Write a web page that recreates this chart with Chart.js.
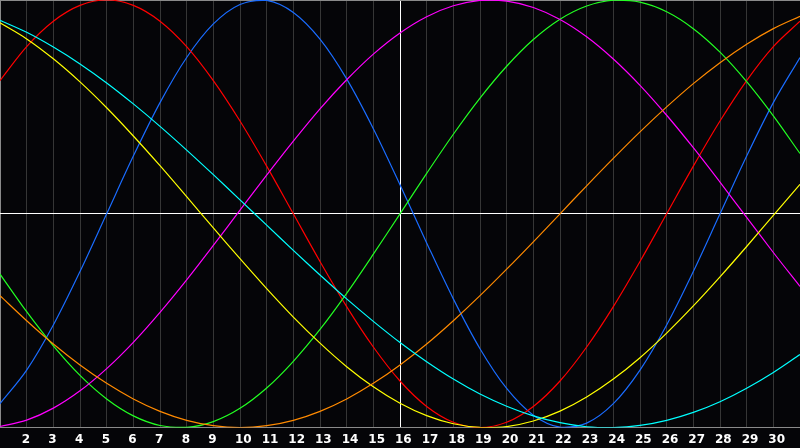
<!DOCTYPE html>
<html lang="en">
<head>
  <meta charset="UTF-8" />
  <title>Biorhythm</title>
  <script src="https://cdn.jsdelivr.net/npm/chart.js"></script>
  <style>
    body { margin: 0; background: #050508; }
    canvas { display: block; }
  </style>
</head>
<body>
  <canvas id="bioChart" width="800" height="448"></canvas>

  <script>
    // days of the month shown on the x axis
    const days = [1, 2, 3, 4, 5, 6, 7, 8, 9, 10, 11, 12, 13, 14, 15, 16,
                  17, 18, 19, 20, 21, 22, 23, 24, 25, 26, 27, 28, 29, 30, 31];

    // cycle values, -1 .. 1, one per day
    const physical = [-0.888, -0.731, -0.520, -0.270, 0.000, 0.270, 0.520, 0.731, 0.888, 0.979,
                      0.998, 0.942, 0.817, 0.631, 0.398, 0.136, -0.136, -0.398, -0.631, -0.817,
                      -0.942, -0.998, -0.979, -0.888, -0.731, -0.520, -0.270, 0.000, 0.270,
                      0.520, 0.731];
    const emotional = [0.623, 0.782, 0.901, 0.975, 1.000, 0.975, 0.901, 0.782, 0.623, 0.434,
                       0.223, 0.000, -0.223, -0.434, -0.623, -0.782, -0.901, -0.975, -1.000,
                       -0.975, -0.901, -0.782, -0.623, -0.434, -0.223, 0.000, 0.223, 0.434,
                       0.623, 0.782, 0.901];
    const intellectual = [-0.282, -0.458, -0.618, -0.756, -0.866, -0.945, -0.990, -0.999, -0.972,
                          -0.910, -0.815, -0.690, -0.541, -0.372, -0.189, 0.000, 0.189, 0.372,
                          0.541, 0.690, 0.815, 0.910, 0.972, 0.999, 0.990, 0.945, 0.866, 0.756,
                          0.618, 0.458, 0.282];
    const intuitive = [-0.995, -0.965, -0.909, -0.828, -0.724, -0.601, -0.461, -0.309, -0.148,
                       0.017, 0.181, 0.340, 0.491, 0.627, 0.747, 0.846, 0.922, 0.973, 0.998,
                       0.995, 0.965, 0.909, 0.828, 0.724, 0.601, 0.461, 0.309, 0.148, -0.017,
                       -0.181, -0.340];
    const aesthetic = [0.893, 0.818, 0.725, 0.617, 0.496, 0.364, 0.225, 0.080, -0.066, -0.210,
                       -0.350, -0.483, -0.605, -0.715, -0.809, -0.886, -0.944, -0.982, -0.999,
                       -0.995, -0.969, -0.923, -0.857, -0.773, -0.673, -0.558, -0.431, -0.295,
                       -0.153, -0.007, 0.138];
    const awareness = [-0.383, -0.500, -0.609, -0.707, -0.793, -0.866, -0.924, -0.966, -0.991,
                       -1.000, -0.991, -0.966, -0.924, -0.866, -0.793, -0.707, -0.609, -0.500,
                       -0.383, -0.259, -0.131, 0.000, 0.131, 0.259, 0.383, 0.500, 0.609, 0.707,
                       0.793, 0.866, 0.924];
    const spiritual = [0.905, 0.849, 0.780, 0.701, 0.612, 0.514, 0.409, 0.298, 0.183, 0.065,
                       -0.053, -0.171, -0.286, -0.398, -0.503, -0.602, -0.692, -0.773, -0.843,
                       -0.900, -0.945, -0.977, -0.996, -1.000, -0.990, -0.966, -0.929, -0.879,
                       -0.816, -0.742, -0.658];

    const today = 16;

    function line(data, color) {
      return {
        data: data,
        borderColor: color,
        borderWidth: 1.2,
        pointRadius: 0,
        tension: 0.33,
        fill: false
      };
    }

    new Chart(document.getElementById('bioChart'), {
      type: 'line',
      data: {
        labels: days,
        datasets: [
          line(spiritual, '#00ffff'),
          line(awareness, '#ff8a00'),
          line(aesthetic, '#ffff00'),
          line(intuitive, '#ff00ff'),
          line(intellectual, '#22ff22'),
          line(emotional, '#ff0000'),
          line(physical, '#1a6cff')
        ]
      },
      options: {
        responsive: false,
        animation: false,
        layout: { padding: { left: 0, right: 0, top: 0, bottom: 1 } },
        plugins: { legend: { display: false }, tooltip: { enabled: false } },
        scales: {
          x: {
            offset: false,
            border: { display: true, color: '#8a8a8a' },
            grid: {
              drawTicks: true,
              tickLength: 5,
              tickColor: 'rgba(0,0,0,0)',
              color: ctx => {
                const v = days[ctx.index];
                if (v === today) return '#ffffff';
                if (v === days[0] || v === days[days.length - 1]) return '#8a8a8a';
                return '#363636';
              }
            },
            ticks: {
              autoSkip: false,
              maxRotation: 0,
              padding: 0,
              align: 'start',
              labelOffset: -5,
              color: '#ffffff',
              font: { family: 'DejaVu Sans', size: 12, weight: 'bold' },
              callback: (val, i) => (i === 0 || i === days.length - 1) ? '' : days[i]
            }
          },
          y: {
            min: -1,
            max: 1,
            border: { display: false },
            grid: {
              drawTicks: false,
              color: ctx => ctx.tick.value === 0 ? '#ffffff' : '#8a8a8a'
            },
            ticks: { display: false, stepSize: 1, padding: 0 }
          }
        }
      }
    });
  </script>
</body>
</html>
